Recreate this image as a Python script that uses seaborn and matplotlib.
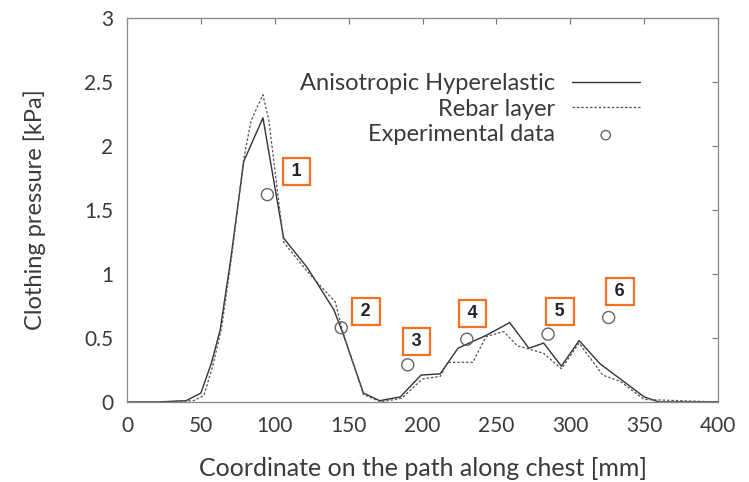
import matplotlib
matplotlib.use("Agg")
import matplotlib.pyplot as plt
import seaborn as sns
import pandas as pd

# 가슴 경로 위의 의복압 (해석 vs 실험)

# 데이터
aniso_x = [0, 20, 40, 50, 57, 63, 70, 79, 92, 106, 122, 140, 146, 160, 171, 185,
           199, 212, 224, 243, 259, 272, 282, 294, 306, 320, 350, 360, 400]
aniso_y = [0.0, 0.0, 0.01, 0.07, 0.30, 0.56, 1.10, 1.88, 2.22, 1.28, 1.05, 0.72, 0.54, 0.07, 0.01, 0.04,
           0.21, 0.22, 0.42, 0.52, 0.62, 0.42, 0.46, 0.28, 0.48, 0.30, 0.04, 0.0, 0.0]

rebar_x = [0, 20, 45, 52, 58, 64, 71, 79, 84, 92, 96, 106, 110, 122, 141, 146, 160, 172, 186,
           200, 212, 217, 234, 243, 255, 264, 282, 294, 306, 322, 334, 350, 400]
rebar_y = [0.0, 0.0, 0.01, 0.05, 0.28, 0.58, 1.15, 1.90, 2.20, 2.40, 2.20, 1.25, 1.19, 1.02, 0.78, 0.55, 0.06, 0.0, 0.03,
           0.18, 0.20, 0.31, 0.31, 0.51, 0.55, 0.44, 0.38, 0.26, 0.46, 0.21, 0.16, 0.02, 0.0]

exp_x = [95, 145, 190, 230, 285, 326]
exp_y = [1.62, 0.58, 0.29, 0.49, 0.53, 0.66]

point_labels = ["1", "2", "3", "4", "5", "6"]
label_x = [114.5, 161.7, 196.0, 233.9, 293.0, 333.6]
label_y = [1.80, 0.71, 0.47, 0.69, 0.71, 0.86]

x_ticks = [0, 50, 100, 150, 200, 250, 300, 350, 400]
y_ticks = [0, 0.5, 1, 1.5, 2, 2.5, 3]
y_tick_labels = ["0", "0.5", "1", "1.5", "2", "2.5", "3"]

sns.set_style("white")
plt.rcParams["font.family"] = ["Lato", "DejaVu Sans"]
text_color = "#3a3a3a"

fig = plt.figure(figsize=(7.49, 4.82), dpi=100)
ax = fig.add_axes([0.1696, 0.166, 0.789, 0.7967])

aniso_df = pd.DataFrame({"x": aniso_x, "y": aniso_y})
rebar_df = pd.DataFrame({"x": rebar_x, "y": rebar_y})
exp_df = pd.DataFrame({"x": exp_x, "y": exp_y})

sns.lineplot(data=aniso_df, x="x", y="y", ax=ax, color="#333333", linewidth=1.0,
             estimator=None, sort=False, label="Anisotropic Hyperelastic")
sns.lineplot(data=rebar_df, x="x", y="y", ax=ax, color="#555555", linewidth=0.9,
             estimator=None, sort=False, label="Rebar layer")
ax.lines[-1].set_dashes([2, 1.5])
sns.scatterplot(data=exp_df, x="x", y="y", ax=ax, marker="o", s=75,
                facecolor="none", edgecolor="#666666", linewidth=1.0,
                label="Experimental data", zorder=5)

# 번호 박스
for lx, ly, t in zip(label_x, label_y, point_labels):
    ax.text(lx, ly, "\u2009" + t + "\u2009", ha="center", va="center", fontsize=13,
            fontweight="bold", color="#222233", family=["Liberation Sans", "DejaVu Sans"],
            bbox=dict(boxstyle="square,pad=0.28", fc="white", ec="#f37021", lw=1.6))

ax.set_xlim(0, 400)
ax.set_ylim(0, 3)
ax.set_xticks(x_ticks)
ax.set_yticks(y_ticks)
ax.set_yticklabels(y_tick_labels)
ax.set_xlabel("Coordinate on the path along chest [mm]", fontsize=18, color=text_color)
ax.set_ylabel("Clothing pressure [kPa]", fontsize=17, color=text_color)
ax.xaxis.set_label_coords(0.5, -0.143)
ax.yaxis.set_label_coords(-0.137, 0.5)
ax.tick_params(direction="in", length=4, width=0.8, color="#777777", labelsize=15,
               labelcolor=text_color, top=True, right=True, pad=10)
for sp in ax.spines.values():
    sp.set_color("#888888")
    sp.set_linewidth(0.9)

leg = ax.legend(loc="upper right", bbox_to_anchor=(0.868, 0.857), frameon=False,
                markerfirst=False, fontsize=17, handlelength=2.9, handletextpad=0.7,
                labelspacing=0.2, borderaxespad=0, borderpad=0)
for t in leg.get_texts():
    t.set_color(text_color)
leg.legend_handles[2].set_sizes([45])

plt.savefig("out.png", dpi=100)
